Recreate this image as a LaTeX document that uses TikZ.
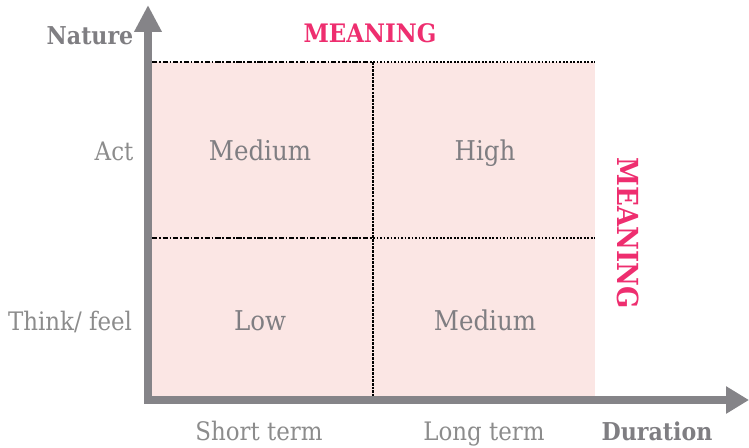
\documentclass[tikz,border=0pt]{standalone}
\usepackage{fontspec}
\setmainfont{DejaVu Serif Condensed}
\usetikzlibrary{arrows.meta}
\definecolor{axisgray}{HTML}{858488}
\definecolor{textgray}{HTML}{7F7E82}
\definecolor{lightgray}{HTML}{8C8C8C}
\definecolor{cellpink}{HTML}{FBE6E4}
\definecolor{meaningpink}{HTML}{EE2E6F}
\begin{document}
\begin{tikzpicture}[x=0.02cm,y=-0.02cm,
	axislabel/.style={text=textgray,text height=0.75em,text depth=0.2em,font=\bfseries\fontsize{14}{16}\selectfont},
	ticklabel/.style={text=lightgray,text height=0.75em,text depth=0.2em,font=\fontsize{14.5}{16}\selectfont},
	celllabel/.style={text=textgray,text height=0.75em,text depth=0.2em,font=\fontsize{15.5}{17}\selectfont},
	meaning/.style={text=meaningpink,text height=0.75em,text depth=0.2em,font=\bfseries\fontsize{14.5}{16}\selectfont}]
				\useasboundingbox (0,0) rectangle (749,447);
				\fill [cellpink] (152,62) rectangle (595,396);
				% grid lines
				\draw [line width=1pt,dash pattern=on 3pt off 1pt on 1pt off 1pt] (152,62) -- (373,62);
				\draw [line width=1pt,densely dotted] (373,62) -- (595,62);
				\draw [line width=1pt,dash pattern=on 3pt off 1pt on 1pt off 1pt] (152,238) -- (373,238);
				\draw [line width=1pt,densely dotted] (373,238) -- (595,238);
				\draw [line width=1pt,dash pattern=on 1.5pt off 0.6pt] (373,62) -- (373,396);
				% axes
				\coordinate (top) at (148,5);
				\coordinate (origin) at (148,400);
				\coordinate (right) at (749,400);
				\draw [axisgray,line width=0.16cm,line join=miter,
					{Triangle[length=0.54cm,width=0.52cm]}-{Triangle[length=0.46cm,width=0.52cm]}] (top) -- (origin) -- (right);
				% labels
				\node [axislabel] (nature) at (90,40) {Nature};
				\node [axislabel] (duration) at (657,436) {Duration};
				\node [meaning] (meaningtop) at (370,38) {MEANING};
				\node [meaning,rotate=-90,font=\bfseries\fontsize{16.5}{18}\selectfont] (meaningside) at (622,233) {MEANING};
				\node [ticklabel] (act) at (114,156) {Act};
				\node [ticklabel] (think) at (70,326) {Think/ feel};
				\node [ticklabel] (short) at (259,436) {Short term};
				\node [ticklabel] (long) at (484,436) {Long term};
				\node [celllabel] (medium1) at (260,156) {Medium};
				\node [celllabel] (high) at (485,156) {High};
				\node [celllabel] (low) at (260,326) {Low};
				\node [celllabel] (medium2) at (485,326) {Medium};
\end{tikzpicture}
\end{document}
